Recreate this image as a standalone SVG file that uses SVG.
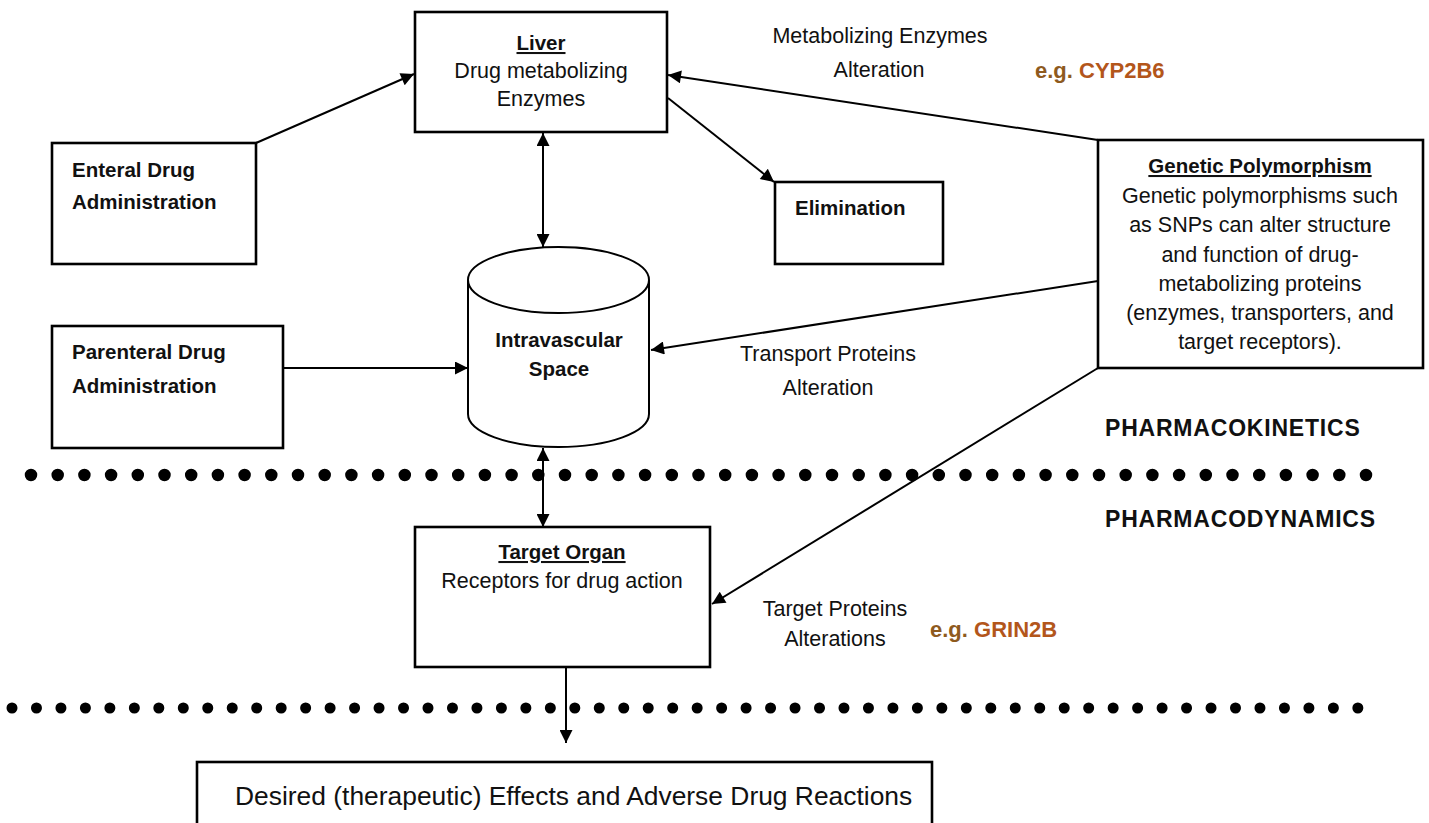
<svg xmlns="http://www.w3.org/2000/svg" width="1429" height="823" viewBox="0 0 1429 823">
<defs>
<marker id="ah" viewBox="0 0 10 10" refX="10" refY="5" markerWidth="18" markerHeight="13" markerUnits="userSpaceOnUse" orient="auto-start-reverse">
<path d="M0,0 L10,5 L0,10 z" fill="#000"/>
</marker>
<style>
.box{fill:#fff;stroke:#000;stroke-width:2.6}
.con{stroke:#000;stroke-width:2;fill:none;marker-end:url(#ah)}
.dbl{marker-start:url(#ah)}
.t{font-family:"Liberation Sans",Arial,sans-serif;font-size:21.5px;fill:#111}
.b{font-family:"Liberation Sans",Arial,sans-serif;font-size:20.5px;font-weight:bold;fill:#111}
.u{text-decoration:underline}
.c{text-anchor:middle}
.eg{font-family:"Liberation Sans",Arial,sans-serif;font-size:22px;font-weight:bold}
.big{font-family:"Liberation Sans",Arial,sans-serif;font-size:23px;font-weight:bold;fill:#111;letter-spacing:0.8px}
.dots{stroke:#000;stroke-linecap:round;fill:none}
</style>
</defs>
<rect width="1429" height="823" fill="#fff"/>

<g id="separators">
<line class="dots" x1="31" y1="475" x2="1370" y2="475" stroke-width="12.5" stroke-dasharray="0 26.7"/>
<line class="dots" x1="12" y1="708" x2="1360" y2="708" stroke-width="11" stroke-dasharray="0 24.47"/>
</g>

<g id="connectors">
<line class="con" x1="256" y1="143" x2="414" y2="74"/>
<line class="con dbl" x1="543" y1="133" x2="543" y2="247"/>
<line class="con" x1="668" y1="98" x2="774" y2="182"/>
<line class="con" x1="1098" y1="140" x2="668" y2="75"/>
<line class="con" x1="1098" y1="281" x2="651" y2="350"/>
<line class="con" x1="284" y1="368" x2="468" y2="368"/>
<line class="con dbl" x1="543" y1="448" x2="543" y2="527"/>
<line class="con" x1="1098" y1="368" x2="712" y2="604"/>
<line class="con" x1="566" y1="667" x2="566" y2="743"/>
</g>

<g id="liver">
<rect class="box" x="415" y="12" width="252" height="120"/>
<text class="b c u" x="541" y="50">Liver</text>
<text class="t c" x="541" y="78">Drug metabolizing</text>
<text class="t c" x="541" y="106">Enzymes</text>
</g>

<g id="enteral">
<rect class="box" x="52" y="143" width="204" height="121"/>
<text class="b" x="72" y="177">Enteral Drug</text>
<text class="b" x="72" y="209">Administration</text>
</g>

<g id="elimination">
<rect class="box" x="775" y="182" width="168" height="82"/>
<text class="b" x="795" y="215">Elimination</text>
</g>

<g id="genetic">
<rect class="box" x="1098" y="140" width="325" height="228"/>
<text class="b c u" x="1260" y="173">Genetic Polymorphism</text>
<text class="t c" x="1260" y="203">Genetic polymorphisms such</text>
<text class="t c" x="1260" y="232">as SNPs can alter structure</text>
<text class="t c" x="1260" y="262">and function of drug-</text>
<text class="t c" x="1260" y="291">metabolizing proteins</text>
<text class="t c" x="1260" y="320">(enzymes, transporters, and</text>
<text class="t c" x="1260" y="349">target receptors).</text>
</g>

<g id="parenteral">
<rect class="box" x="52" y="326" width="231" height="122"/>
<text class="b" x="72" y="359">Parenteral Drug</text>
<text class="b" x="72" y="393">Administration</text>
</g>

<g id="intravascular">
<path d="M468,280 L468,414 A90.5,33 0 0 0 649,414 L649,280" fill="#fff" stroke="#000" stroke-width="2"/>
<ellipse cx="558.5" cy="280" rx="90.5" ry="33" fill="#fff" stroke="#000" stroke-width="2"/>
<text class="b c" x="559" y="347">Intravascular</text>
<text class="b c" x="559" y="376">Space</text>
</g>

<g id="target-organ">
<rect class="box" x="415" y="527" width="295" height="140"/>
<text class="b c u" x="562" y="559">Target Organ</text>
<text class="t c" x="562" y="588">Receptors for drug action</text>
</g>

<g id="effects">
<rect class="box" x="197" y="762" width="735" height="70"/>
<text class="t" x="235" y="805" style="font-size:26.4px">Desired (therapeutic) Effects and Adverse Drug Reactions</text>
</g>

<g id="labels">
<text class="t c" x="880" y="43">Metabolizing Enzymes</text>
<text class="t c" x="879" y="77">Alteration</text>
<text class="eg" x="1035" y="78"><tspan fill="#8E5A1E">e.g. </tspan><tspan fill="#B3561B">CYP2B6</tspan></text>
<text class="t c" x="828" y="361">Transport Proteins</text>
<text class="t c" x="828" y="395">Alteration</text>
<text class="big" x="1105" y="436">PHARMACOKINETICS</text>
<text class="big" x="1105" y="527">PHARMACODYNAMICS</text>
<text class="t c" x="835" y="616">Target Proteins</text>
<text class="t c" x="835" y="646">Alterations</text>
<text class="eg" x="930" y="637"><tspan fill="#8E5A1E">e.g. </tspan><tspan fill="#B3561B">GRIN2B</tspan></text>
</g>
</svg>
